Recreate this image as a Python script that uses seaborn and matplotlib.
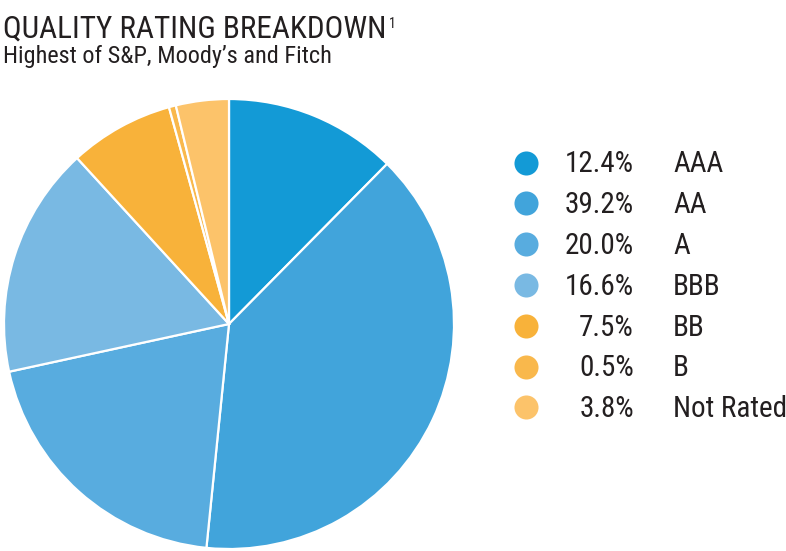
import matplotlib
matplotlib.use("Agg")
import matplotlib.pyplot as plt
import seaborn as sns

# --- Data ---
ratings = ["AAA", "AA", "A", "BBB", "BB", "B", "Not Rated"]
shares = [12.4, 39.2, 20.0, 16.6, 7.5, 0.5, 3.8]
colors = ["#139ad6", "#41a4db", "#58acdf", "#79b9e3", "#f8b23a", "#f9b84c", "#fcc36a"]

# --- Style ---
sns.set_theme(style="white")
plt.rcParams["font.family"] = ["Roboto Condensed", "DejaVu Sans"]

W, H = 786, 551
fig = plt.figure(figsize=(W / 100, H / 100), dpi=100)

# pie
R = 225
cx, cy = 229, 324
ax = fig.add_axes([(cx - R) / W, (H - cy - R) / H, 2 * R / W, 2 * R / H])
ax.pie(shares, colors=colors, startangle=90, counterclock=False,
       wedgeprops=dict(edgecolor="white", linewidth=1.6))
ax.set_xlim(-1, 1)
ax.set_ylim(-1, 1)
ax.set_aspect("equal")
ax.axis("off")

# titles
title = fig.text(3 / W, 1 - 38 / H, "QUALITY RATING BREAKDOWN", fontsize=22.5,
                 color="#231f20", ha="left", va="baseline")
fig.canvas.draw()
bb = title.get_window_extent()
fig.text(bb.x1 / W + 2 / W, 1 - 28 / H, "1", fontsize=10, color="#231f20",
         ha="left", va="baseline")
fig.text(3 / W, 1 - 63 / H, "Highest of S&P, Moody\u2019s and Fitch", fontsize=17.5,
         color="#231f20", ha="left", va="baseline")

# legend
lax = fig.add_axes([0, 0, 1, 1], facecolor="none")
lax.set_xlim(0, W)
lax.set_ylim(H, 0)
lax.axis("off")
y0, dy = 162.5, 40.8
for i, (r, s, c) in enumerate(zip(ratings, shares, colors)):
    y = y0 + i * dy
    lax.scatter([526], [y], s=300, color=c, linewidths=0)
    lax.text(634, y + 10, f"{s:.1f}%", fontsize=21, color="#231f20",
             ha="right", va="baseline")
    lax.text(673, y + 10, r, fontsize=21, color="#231f20",
             ha="left", va="baseline")

fig.savefig("out.png", dpi=100, facecolor="white")
